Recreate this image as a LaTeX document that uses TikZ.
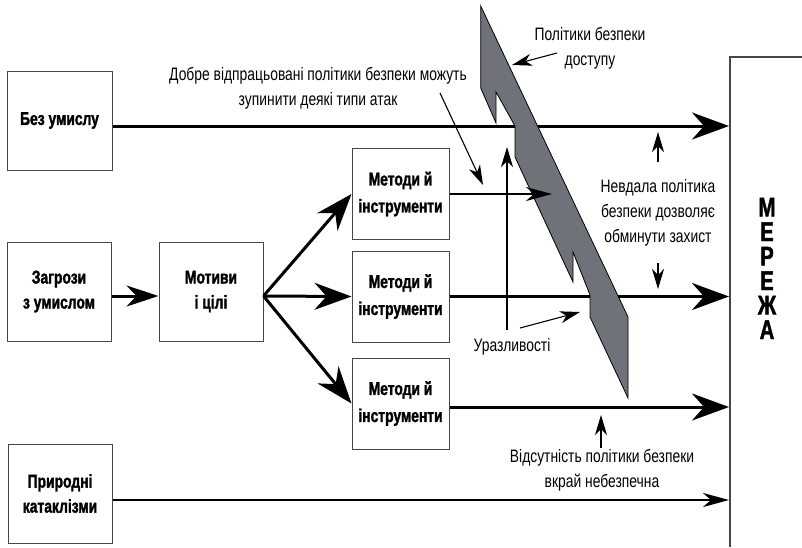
\documentclass[tikz,border=0pt]{standalone}
\usepackage{fontspec}
\setmainfont{Liberation Sans}
\newfontfamily\annf{Liberation Sans}[FakeStretch=0.77]
\newfontfamily\boxf{Liberation Sans Bold}[FakeStretch=0.75, FakeBold=1.6]
\usetikzlibrary{arrows.meta}
\definecolor{wallgray}{RGB}{112,114,121}
\definecolor{edgegray}{RGB}{70,70,70}
\begin{document}
\begin{tikzpicture}[x=1pt,y=-1pt,
  tbox/.style={draw=edgegray,line width=1pt,minimum width=104pt,minimum height=99pt,inner sep=0pt,align=center,font=\boxf\fontsize{18.5}{25}\selectfont},
  mbox/.style={tbox,minimum width=97pt,minimum height=91pt,font=\boxf\fontsize{18.5}{27}\selectfont},
  big/.style={line width=3pt,-{Stealth[length=37pt,width=27pt,inset=12pt]}},
  med/.style={line width=3pt,-{Stealth[length=32pt,width=21pt,inset=10pt]}},
  small/.style={line width=2.6pt,-{Stealth[length=26pt,width=14pt,inset=8pt]}},
  thin/.style={line width=1.1pt,-{Stealth[length=20pt,width=12pt,inset=6pt]}},
  ann/.style={align=center,font=\annf\fontsize{18}{25}\selectfont,inner sep=0pt},
  letter/.style={font=\boxf\fontsize{27}{27}\selectfont,inner sep=0pt,text height=19pt,text depth=0pt},
  wall/.style={fill=wallgray,draw=black,line width=0.8pt}]
\useasboundingbox (0,0) rectangle (802,547);

% boxes
\node[tbox,minimum width=105pt] (bez) at (59.5,120.5) {Без умислу};
\node[tbox] (zag) at (59,291.5) {Загрози\\з умислом};
\node[tbox] (mot) at (211,291.5) {Мотиви\\і цілі};
\node[tbox] (pryr) at (60,493.5) {Природні\\катаклізми};
\node[mbox] (m1) at (400.5,194) {Методи й\\інструменти};
\node[mbox] (m2) at (400.5,296.5) {Методи й\\інструменти};
\node[mbox] (m3) at (400.5,403.5) {Методи й\\інструменти};

% network
\draw[edgegray,line width=1.2pt] (730,547) -- (730,57) -- (802,57);
\node[letter] (net1) at (767,207) {М};
\node[letter] (net2) at (767,231.5) {Е};
\node[letter] (net3) at (767,256) {Р};
\node[letter] (net4) at (767,280.5) {Е};
\node[letter] (net5) at (767,305) {Ж};
\node[letter] (net6) at (767,329.5) {А};

\coordinate (n1) at (729,126);
\coordinate (n2) at (729,296.5);
\coordinate (n3) at (729,407);
\coordinate (n4) at (729,500);
\coordinate (w1) at (552,194);

% lines under the wall
\draw[big] ([yshift=-5.5pt]bez.east) -- (n1);
\draw[big] (m2.east) -- (n2);

% wall
\draw[wall] (480.7,6) -- (628,317) -- (628,398) -- (590,317) -- (590,295)
  -- (573,252) -- (573,282) -- (515,157) -- (515,126) -- (496,92)
  -- (496,123) -- (480.7,88) -- cycle;

% other connectors
\draw[small] (m1.east) -- (w1);
\draw[big] ([yshift=-3.5pt]m3.east) -- (n3);
\draw[small] ([yshift=-6.5pt]pryr.east) -- (n4);
\draw[med] ([yshift=-4.5pt]zag.east) -- ([yshift=-4.5pt]mot.west);
\draw[big] ([yshift=-4.5pt]mot.east) -- (m1.west);
\draw[big] ([yshift=-4.5pt]mot.east) -- (m2.west);
\draw[big] ([yshift=-4.5pt]mot.east) -- (m3.west);

% annotations
\node[ann] (a1) at (590,48) {Політики безпеки\\доступу};
\coordinate (a1s) at (557,53);
\coordinate (a1e) at (512,65);
\draw[thin] (a1s) -- (a1e);

\node[ann] (a2) at (318,88) {Добре відпрацьовані політики безпеки можуть\\зупинити деякі типи атак};
\coordinate (a2s) at (440,93);
\coordinate (a2e) at (483,185);
\draw[thin] (a2s) -- (a2e);

\node[ann] (a3) at (658,213) {Невдала політика\\безпеки дозволяє\\обминути захист};
\coordinate (a3s) at (658,162);
\coordinate (a3e) at (658,132);
\coordinate (a3t) at (658,263);
\coordinate (a3u) at (658,289);
\draw[thin] (a3s) -- (a3e);
\draw[thin] (a3t) -- (a3u);

\node[ann] (a4) at (512,347) {Уразливості};
\coordinate (a4s) at (507,330);
\coordinate (a4e) at (507,147);
\coordinate (a4t) at (520,328);
\coordinate (a4u) at (580,312);
\draw[thin] (a4s) -- (a4e);
\draw[thin] (a4t) -- (a4u);

\node[ann] (a5) at (602,470) {Відсутність політики безпеки\\вкрай небезпечна};
\coordinate (a5s) at (601,448);
\coordinate (a5e) at (601,415);
\draw[thin] (a5s) -- (a5e);
\end{tikzpicture}
\end{document}
